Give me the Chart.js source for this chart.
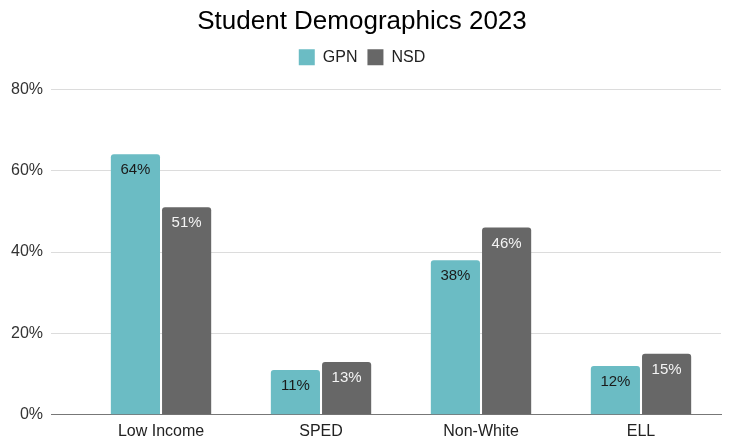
<!DOCTYPE html>
<html lang="en">
<head>
  <meta charset="UTF-8">
  <title>Student Demographics 2023</title>
  <script src="https://cdn.jsdelivr.net/npm/chart.js"></script>
  <style>
    html, body { margin: 0; padding: 0; background: #fff; }
    .chart-container { width: 741px; height: 437px; }
  </style>
</head>
<body>
  <div class="chart-container">
    <canvas id="demoChart"></canvas>
  </div>

  <script>
    const categories = ['Low Income', 'SPED', 'Non-White', 'ELL'];
    const gpnValues = [64, 11, 38, 12];
    const nsdValues = [51, 13, 46, 15];
    const yTicks = [0, 20, 40, 60, 80];

    const FONT = '"Liberation Sans", Arial, sans-serif';

    // draws the % labels just inside the top of each bar
    const barLabels = {
      id: 'barLabels',
      afterDatasetsDraw(chart) {
        const ctx = chart.ctx;
        ctx.save();
        ctx.font = '15px ' + FONT;
        ctx.textAlign = 'center';
        ctx.textBaseline = 'middle';
        chart.data.datasets.forEach((ds, i) => {
          chart.getDatasetMeta(i).data.forEach((bar, j) => {
            ctx.fillStyle = ds.labelColor;
            ctx.fillText(ds.data[j] + '%', bar.x, bar.y + 16);
          });
        });
        ctx.restore();
      }
    };

    // extra room under the legend
    const legendGap = {
      id: 'legendGap',
      beforeInit(chart) {
        const fit = chart.legend.fit;
        chart.legend.fit = function () {
          fit.bind(chart.legend)();
          this.height += 14;
        };
      }
    };

    const ctx = document.getElementById('demoChart').getContext('2d');
    new Chart(ctx, {
      type: 'bar',
      data: {
        labels: categories,
        datasets: [
          { label: 'GPN', data: gpnValues, backgroundColor: '#6bbcc4', labelColor: '#1a1a1a', borderRadius: 3 },
          { label: 'NSD', data: nsdValues, backgroundColor: '#676767', labelColor: '#f4f4f4', borderRadius: 3 }
        ]
      },
      options: {
        responsive: true,
        maintainAspectRatio: false,
        animation: false,
        layout: { padding: { left: 3, right: 20, top: 0, bottom: -12 } },
        datasets: { bar: { categoryPercentage: 0.64, barPercentage: 0.96 } },
        plugins: {
          title: {
            display: true,
            text: 'Student Demographics 2023',
            color: '#000',
            font: { family: FONT, size: 26, weight: 'normal' },
            padding: { top: 6, bottom: 2 }
          },
          legend: {
            labels: {
              boxWidth: 16,
              boxHeight: 16,
              color: '#222',
              font: { family: FONT, size: 16 }
            }
          },
          tooltip: { enabled: false }
        },
        scales: {
          x: {
            grid: { display: false, drawTicks: false, tickLength: 0 },
            border: { display: true, color: '#777', width: 1 },
            ticks: { color: '#222', padding: 7.5, font: { family: FONT, size: 16 } }
          },
          y: {
            min: 0,
            max: 80,
            afterBuildTicks: axis => { axis.ticks = yTicks.map(v => ({ value: v })); },
            border: { display: false },
            grid: {
              color: c => c.tick && c.tick.value === 0 ? '#777' : '#dcdcdc',
              tickLength: 30
            },
            ticks: {
              color: '#333',
              padding: 8,
              callback: v => v + '%',
              font: { family: FONT, size: 16 }
            }
          }
        }
      },
      plugins: [barLabels, legendGap]
    });
  </script>
</body>
</html>
